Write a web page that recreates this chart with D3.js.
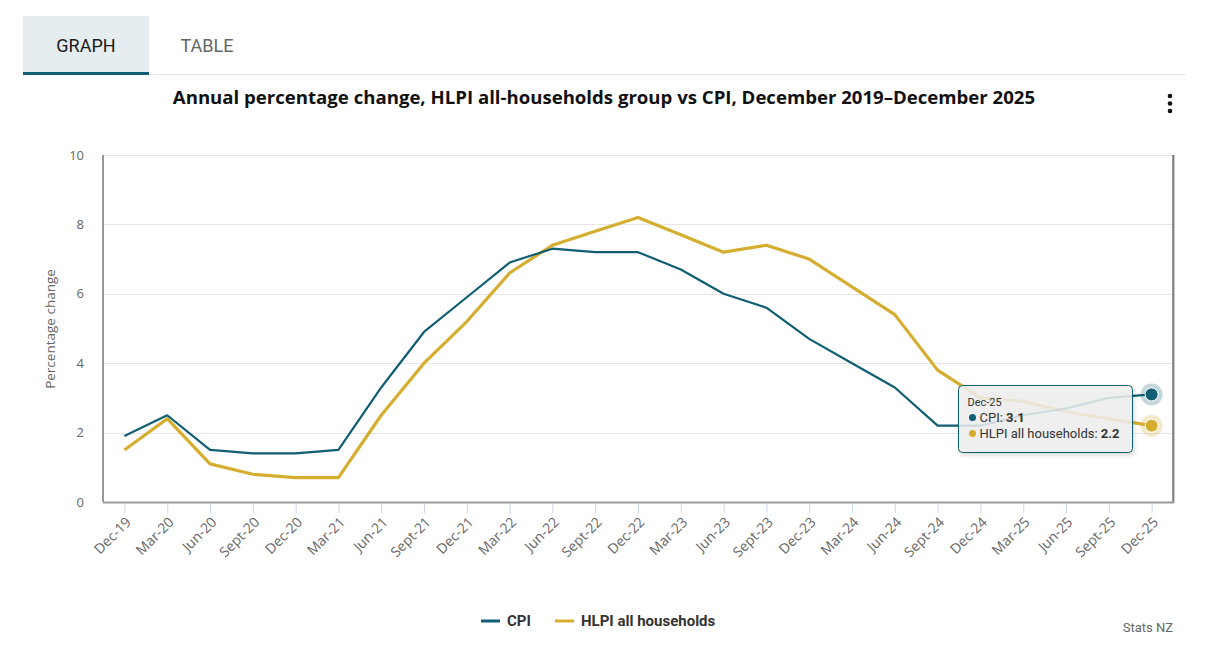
<!DOCTYPE html>
<html>
<head>
<meta charset="utf-8">
<script src="https://cdn.jsdelivr.net/npm/d3@7"></script>
<style>
    body { margin: 0; background: #fff; }
    svg { display: block; }
</style>
</head>
<body>
<svg id="chart" width="1215" height="650"></svg>
<script>
(function(){
    "use strict";

    var quarters = ["Dec-19", "Mar-20", "Jun-20", "Sept-20", "Dec-20", "Mar-21", "Jun-21", "Sept-21",
        "Dec-21", "Mar-22", "Jun-22", "Sept-22", "Dec-22", "Mar-23", "Jun-23", "Sept-23", "Dec-23",
        "Mar-24", "Jun-24", "Sept-24", "Dec-24", "Mar-25", "Jun-25", "Sept-25", "Dec-25"];

    var cpiValues = [1.9, 2.5, 1.5, 1.4, 1.4, 1.5, 3.3, 4.9, 5.9, 6.9, 7.3, 7.2, 7.2,
        6.7, 6.0, 5.6, 4.7, 4.0, 3.3, 2.2, 2.2, 2.5, 2.7, 3.0, 3.1];

    var hlpiValues = [1.5, 2.4, 1.1, 0.8, 0.7, 0.7, 2.5, 4.0, 5.2, 6.6, 7.4, 7.8, 8.2,
        7.7, 7.2, 7.4, 7.0, 6.2, 5.4, 3.8, 3.0, 2.9, 2.6, 2.4, 2.2];

    var yTicks = [0, 2, 4, 6, 8, 10];

    var seriesNames = ["CPI", "HLPI all households"];
    var seriesColors = ["#0f5e73", "#d5ad2f"];

    var svg = d3.select("#chart");
    var fontMain = "Roboto, Lato, sans-serif";
    var fontAxis = "'Open Sans', sans-serif";

    var left = 103, right = 1173, top = 155, bottom = 502;

    var x = d3.scalePoint()
        .domain(quarters)
        .range([left, right])
        .padding(0.5);

    var y = d3.scaleLinear()
        .domain([0, 10])
        .range([bottom, top]);

    /* tabs */
    svg.append("rect").attr("x", 23).attr("y", 16).attr("width", 126).attr("height", 58).attr("fill", "#e5edf0");
    svg.append("line").attr("x1", 23).attr("x2", 1186).attr("y1", 74.5).attr("y2", 74.5)
        .attr("stroke", "#e3e3e3").attr("stroke-width", 1);
    svg.append("rect").attr("x", 23).attr("y", 72).attr("width", 126).attr("height", 3).attr("fill", "#0f5e73");
    svg.append("text").attr("x", 86).attr("y", 52).attr("text-anchor", "middle")
        .style("font-family", fontMain).style("font-size", "18px").attr("fill", "#1a1a1a").text("GRAPH");
    svg.append("text").attr("x", 207).attr("y", 52).attr("text-anchor", "middle")
        .style("font-family", fontMain).style("font-size", "18px").attr("fill", "#666").text("TABLE");

    /* title */
    svg.append("text").attr("x", 604).attr("y", 104).attr("text-anchor", "middle")
        .style("font-family", fontAxis).style("font-size", "18.6px").style("font-weight", "bold")
        .attr("fill", "#111")
        .text("Annual percentage change, HLPI all-households group vs CPI, December 2019\u2013December 2025");

    /* menu dots */
    [96, 103.5, 111].forEach(function(cy){
        svg.append("circle").attr("cx", 1170).attr("cy", cy).attr("r", 2.3).attr("fill", "#111");
    });

    /* grid */
    svg.append("g").selectAll("line")
        .data(yTicks)
        .enter().append("line")
        .attr("x1", left).attr("x2", right)
        .attr("y1", function(d){ return Math.round(y(d)) + 0.5; })
        .attr("y2", function(d){ return Math.round(y(d)) + 0.5; })
        .attr("stroke", "#e6e6e6").attr("stroke-width", 1);

    /* y axis */
    var yAxis = d3.axisLeft(y).tickValues(yTicks).tickSize(0).tickPadding(19);
    var gy = svg.append("g").attr("transform", "translate(" + left + ",0)").call(yAxis);
    gy.select(".domain").remove();
    gy.selectAll("text").style("font-family", fontAxis).style("font-size", "13px").attr("fill", "#666");

    svg.append("text")
        .attr("transform", "translate(55,329) rotate(-90)")
        .attr("text-anchor", "middle")
        .style("font-family", fontAxis).style("font-size", "13.5px").attr("fill", "#666")
        .text("Percentage change");

    /* plot border */
    svg.append("line").attr("x1", right + 1).attr("x2", right + 1).attr("y1", top).attr("y2", bottom + 1)
        .attr("stroke", "#ccc").attr("stroke-width", 2);
    svg.append("line").attr("x1", left).attr("x2", left).attr("y1", top).attr("y2", bottom)
        .attr("stroke", "#333").attr("stroke-width", 1);
    svg.append("line").attr("x1", right).attr("x2", right).attr("y1", top).attr("y2", bottom)
        .attr("stroke", "#333").attr("stroke-width", 1);

    /* x axis */
    var xAxis = d3.axisBottom(x).tickSize(10).tickPadding(6);
    var gx = svg.append("g").attr("transform", "translate(0," + (bottom + 1) + ")").call(xAxis);
    gx.select(".domain").remove();
    gx.selectAll(".tick line").attr("stroke", "#ccd6eb");
    gx.selectAll("text")
        .style("font-family", fontAxis).style("font-size", "14px").attr("fill", "#666")
        .attr("text-anchor", "end")
        .attr("dy", "0")
        .attr("transform", "translate(7,20) rotate(-45)")
        .attr("y", 0).attr("x", 0);
    svg.append("line").attr("x1", left).attr("x2", right + 1).attr("y1", bottom + 0.5).attr("y2", bottom + 0.5)
        .attr("stroke", "#9a9a9a").attr("stroke-width", 2);

    /* lines */
    var allSeries = [cpiValues, hlpiValues];
    var widths = [2.2, 3.2];
    var line = d3.line()
        .x(function(d, i){ return x(quarters[i]); })
        .y(function(d){ return y(d); });

    [1, 0].forEach(function(s){
        svg.append("path")
            .datum(allSeries[s])
            .attr("d", line)
            .attr("fill", "none")
            .attr("stroke", seriesColors[s])
            .attr("stroke-width", widths[s])
            .attr("stroke-linejoin", "round");
    });

    /* hover markers on last point */
    var last = quarters.length - 1;
    allSeries.forEach(function(values, s){
        svg.append("circle")
            .attr("cx", x(quarters[last])).attr("cy", y(values[last])).attr("r", 11)
            .attr("fill", seriesColors[s]).attr("opacity", 0.25);
        svg.append("circle")
            .attr("cx", x(quarters[last])).attr("cy", y(values[last])).attr("r", 6.5)
            .attr("fill", seriesColors[s]).attr("stroke", "#fff").attr("stroke-width", 1);
    });

    /* tooltip */
    var defs = svg.append("defs");
    var filter = defs.append("filter").attr("id", "shadow").attr("x", "-10%").attr("y", "-10%")
        .attr("width", "130%").attr("height", "140%");
    filter.append("feDropShadow").attr("dx", 1).attr("dy", 2).attr("stdDeviation", 2)
        .attr("flood-color", "#000").attr("flood-opacity", 0.18);

    var tip = svg.append("g").attr("transform", "translate(958.5,385.5)");
    tip.append("rect").attr("width", 174).attr("height", 67).attr("rx", 4)
        .attr("fill", "rgba(240,240,240,0.85)").attr("stroke", seriesColors[0]).attr("stroke-width", 1)
        .attr("filter", "url(#shadow)");
    tip.append("text").attr("x", 9).attr("y", 20)
        .style("font-family", fontMain).style("font-size", "11px").attr("fill", "#333")
        .text(quarters[last]);
    allSeries.forEach(function(values, s){
        var ty = 36 + s * 16;
        tip.append("circle").attr("cx", 14).attr("cy", ty - 4).attr("r", 3.5).attr("fill", seriesColors[s]);
        var t = tip.append("text").attr("x", 21).attr("y", ty)
            .style("font-family", fontMain).style("font-size", "13px").attr("fill", "#333");
        t.append("tspan").text(seriesNames[s] + ": ");
        t.append("tspan").style("font-weight", "bold").text(values[last]);
    });

    /* legend */
    var legendX = [481, 555];
    seriesNames.forEach(function(name, s){
        svg.append("line").attr("x1", legendX[s]).attr("x2", legendX[s] + 19)
            .attr("y1", 621).attr("y2", 621)
            .attr("stroke", seriesColors[s]).attr("stroke-width", 3);
        svg.append("text").attr("x", legendX[s] + 26).attr("y", 626)
            .style("font-family", fontMain).style("font-size", "15px").style("font-weight", "bold")
            .attr("fill", "#333").text(name);
    });

    /* credit */
    svg.append("text").attr("x", 1173).attr("y", 632).attr("text-anchor", "end")
        .style("font-family", fontMain).style("font-size", "13px").attr("fill", "#666")
        .text("Stats NZ");
}());
</script>
</body>
</html>
